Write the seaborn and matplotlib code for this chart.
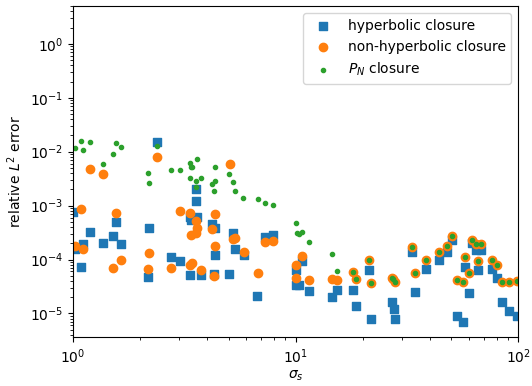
import seaborn as sns
import matplotlib.pyplot as plt

# sigma_s and relative L2 error
hyp_sigma = [1.0, 1.02, 1.09, 1.105, 1.19, 1.37, 1.52, 1.56, 1.64, 2.18, 2.20, 2.38,
             2.76, 3.03, 3.36, 3.36, 3.39, 3.56, 3.58, 3.60, 3.76, 4.23, 4.30, 4.33,
             4.35, 5.04, 5.24, 5.35, 5.85, 6.72, 7.32, 7.94, 10.0, 10.1, 10.4, 10.7,
             11.5, 14.6, 15.3,
             18.2, 18.7, 21.3, 21.9, 27.2, 27.7, 28.0, 33.5, 34.3, 38.7, 44.3, 48.0,
             50.2, 53.0, 56.6, 58.0, 60.4, 62.1, 64.5, 68.4, 66.1, 76.4, 80.2, 84.7,
             91.4, 98.4]
hyp_err = [7.6e-4, 1.55e-4, 7.4e-5, 1.95e-4, 3.3e-4, 2.0e-4, 2.7e-4, 5.0e-4, 1.9e-4,
           4.8e-5, 3.9e-4, 1.51e-2, 1.1e-4, 9.3e-5, 6.2e-4, 5.2e-5, 5.3e-4, 2.0e-3,
           1.2e-3, 6.2e-4, 5.2e-5, 4.6e-4, 5.4e-5, 1.2e-4, 3.9e-4, 5.4e-5, 3.1e-4,
           1.6e-4, 1.2e-4, 2.1e-5, 2.6e-4, 2.8e-4, 3.3e-5, 6.3e-5, 3.4e-5, 9.3e-5,
           2.6e-5, 2.0e-5, 2.7e-5,
           2.7e-5, 1.4e-5, 6.5e-5, 8.0e-6, 1.6e-5, 1.2e-5, 8.0e-6, 1.4e-4, 2.5e-5,
           6.6e-5, 1.0e-4, 1.4e-4, 2.3e-4, 9.1e-6, 6.9e-6, 7.3e-5, 2.4e-5, 2.0e-4,
           1.5e-4, 1.5e-4, 6.3e-5, 6.6e-5, 4.5e-5, 1.6e-5, 1.1e-5, 9.1e-6]

nonhyp_sigma = [1.02, 1.09, 1.105, 1.19, 1.37, 1.52, 1.56, 1.64, 2.18, 2.20, 2.39,
                2.76, 3.03, 3.36, 3.36, 3.39, 3.44, 3.56, 3.58, 3.60, 3.76, 4.23, 4.30,
                4.35, 4.35, 5.06, 5.24, 5.35, 5.85, 6.76, 7.32, 7.94, 10.0, 10.1, 10.7,
                11.5, 14.6, 15.3,
                18.2, 18.7, 21.3, 21.8, 27.2, 27.5, 28.0, 33.5, 34.3, 38.7, 44.3, 48.0,
                50.2, 53.0, 56.8, 58.0, 60.4, 62.1, 64.5, 66.1, 68.4, 76.4, 80.2, 84.7,
                91.4, 99.0]
nonhyp_err = [1.8e-4, 8.7e-4, 1.6e-4, 4.8e-3, 3.9e-3, 7.1e-5, 7.2e-4, 1.0e-4, 6.7e-5,
              1.3e-4, 7.9e-3, 7.1e-5, 7.8e-4, 7.4e-4, 7.9e-5, 2.8e-4, 8.5e-5, 3.1e-4,
              5.1e-4, 3.9e-4, 6.3e-5, 3.7e-4, 4.9e-5, 7.1e-4, 1.8e-4, 5.9e-3, 2.4e-4,
              2.5e-4, 1.4e-4, 5.7e-5, 2.1e-4, 2.2e-4, 4.5e-5, 7.8e-5, 1.14e-4, 4.1e-5,
              4.3e-5, 4.2e-5,
              5.8e-5, 4.4e-5, 9.6e-5, 3.7e-5, 4.6e-5, 4.3e-5, 3.9e-5, 1.7e-4, 5.7e-5,
              9.8e-5, 1.36e-4, 1.8e-4, 2.7e-4, 4.2e-5, 3.9e-5, 1.1e-4, 5.6e-5, 2.3e-4,
              1.9e-4, 9.5e-5, 1.9e-4, 9.8e-5, 7.8e-5, 3.9e-5, 3.9e-5, 4.0e-5]

pn_sigma = [1.02, 1.09, 1.105, 1.19, 1.37, 1.52, 1.56, 1.64, 2.18, 2.20, 2.39, 2.76,
            3.03, 3.36, 3.37, 3.39, 3.44, 3.56, 3.58, 3.60, 3.76, 4.23, 4.30, 4.33,
            4.35, 5.04, 5.24, 5.35, 5.83, 6.76, 7.32, 7.94, 10.0, 10.2, 10.4, 10.7,
            11.5, 14.6, 15.3,
            18.2, 18.7, 21.3, 21.8, 27.2, 27.5, 28.0, 33.5, 34.3, 38.7, 44.3, 48.0,
            50.2, 53.0, 56.8, 58.0, 60.4, 62.1, 64.5, 66.1, 68.4, 76.4, 80.2, 84.7,
            91.4, 99.0]
pn_err = [1.17e-2, 1.55e-2, 1.09e-2, 1.51e-2, 5.9e-3, 9.1e-3, 1.43e-2, 1.2e-2, 4.1e-3,
          2.6e-3, 1.25e-2, 4.5e-3, 4.6e-3, 6.2e-3, 3.2e-3, 5.3e-3, 5.1e-3, 2.9e-3,
          2.2e-3, 7.4e-3, 3.2e-3, 2.5e-3, 1.9e-3, 2.9e-3, 5.3e-3, 3.9e-3, 2.8e-3,
          1.9e-3, 1.4e-3, 1.33e-3, 1.14e-3, 1.04e-3, 4.8e-4, 3.1e-4, 3.0e-4, 3.3e-4,
          2.1e-4, 1.26e-4, 6.0e-5,
          5.8e-5, 4.4e-5, 9.6e-5, 3.7e-5, 4.6e-5, 4.3e-5, 3.9e-5, 1.7e-4, 5.7e-5,
          9.8e-5, 1.36e-4, 1.8e-4, 2.7e-4, 4.2e-5, 3.9e-5, 1.1e-4, 5.6e-5, 2.3e-4,
          1.9e-4, 9.5e-5, 1.9e-4, 9.8e-5, 7.8e-5, 3.9e-5, 3.9e-5, 4.0e-5]

fig, ax = plt.subplots(figsize=(5.32, 3.86), dpi=100)
fig.subplots_adjust(left=0.137, right=0.974, bottom=0.126, top=0.984)

sns.scatterplot(x=hyp_sigma, y=hyp_err, marker='s', s=36, color='C0',
                edgecolor='C0', linewidth=1, label='hyperbolic closure', ax=ax)
sns.scatterplot(x=nonhyp_sigma, y=nonhyp_err, marker='o', s=36, color='C1',
                edgecolor='C1', linewidth=1, label='non-hyperbolic closure', ax=ax)
sns.scatterplot(x=pn_sigma, y=pn_err, marker='.', s=36, color='C2',
                edgecolor='C2', linewidth=1, label='$P_N$ closure', ax=ax)

ax.set_xscale('log')
ax.set_yscale('log')
ax.set_xlim(1, 100)
ax.set_ylim(3.6e-6, 5)
ax.set_xlabel(r'$\sigma_s$', labelpad=2)
ax.set_ylabel(r'relative $L^2$ error')
ax.legend(loc='upper right')

plt.savefig('out.png', dpi=100)
